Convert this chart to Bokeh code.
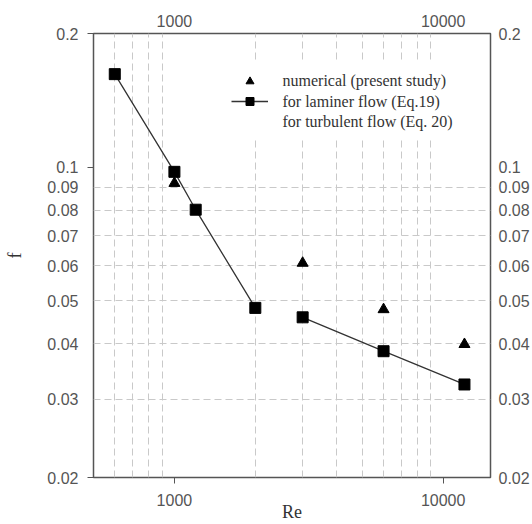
import math
from bokeh.plotting import figure
from bokeh.models import FixedTicker, LogAxis, Legend, LegendItem
from bokeh.core.properties import value
from bokeh.embed import file_html
from bokeh.resources import INLINE

# ---- data ----
re_numerical = [1000, 3000, 6000, 12000]
f_numerical = [0.092, 0.0608, 0.0478, 0.0399]

re_laminar = [600, 1000, 1200, 2000]
f_laminar = [0.162, 0.0976, 0.0802, 0.0482]

re_turbulent = [3000, 6000, 12000]
f_turbulent = [0.0459, 0.0385, 0.0324]

x_major = [1000, 10000]
x_grid = [600, 700, 800, 900, 2000, 3000, 4000, 5000, 6000, 7000, 8000, 9000]
y_labels = [0.02, 0.03, 0.04, 0.05, 0.06, 0.07, 0.08, 0.09, 0.1, 0.2]
y_label_text = ["0.02", "0.03", "0.04", "0.05", "0.06", "0.07", "0.08", "0.09", "0.1", "0.2"]
y_marked = [0.02, 0.1, 0.2]
y_grid = [0.03, 0.04, 0.05, 0.06, 0.07, 0.08, 0.09]

legend_labels = ["numerical (present study)", "for laminer flow (Eq.19)", "for turbulent flow (Eq. 20)"]

X_RANGE = (500, 15000)
Y_RANGE = (0.02, 0.2)
FRAME_W, FRAME_H = 397, 444

TICK_FONT = "Liberation Sans"
SERIF = "Liberation Serif"
TICK_COLOR = "#555555"
FRAME = "#555555"


def frame_to_data(px, py):
    """pixel offset inside the frame (from its top-left) -> data coordinates"""
    lx0, lx1 = math.log10(X_RANGE[0]), math.log10(X_RANGE[1])
    ly0, ly1 = math.log10(Y_RANGE[0]), math.log10(Y_RANGE[1])
    return (10 ** (lx0 + px / FRAME_W * (lx1 - lx0)),
            10 ** (ly1 - py / FRAME_H * (ly1 - ly0)))


p = figure(width=532, height=524, x_axis_type="log", y_axis_type="log",
           x_range=X_RANGE, y_range=Y_RANGE,
           output_backend="svg", toolbar_location=None,
           min_border_left=93, min_border_right=42, min_border_top=33, min_border_bottom=47)
p.background_fill_color = "white"
p.border_fill_color = "white"
p.outline_line_color = FRAME
p.outline_line_width = 1.5

# grids
p.xgrid.ticker = FixedTicker(ticks=x_grid)
p.ygrid.ticker = FixedTicker(ticks=y_grid)
for g in (p.xgrid, p.ygrid):
    g.grid_line_color = "#c9c9c9"
    g.grid_line_dash = "7 4"
    g.grid_line_width = 1

overrides = {v: t for v, t in zip(y_labels, y_label_text)}

# bottom axis
xa = p.xaxis[0]
xa.ticker = FixedTicker(ticks=x_major, minor_ticks=[])
xa.axis_line_color = None
xa.major_tick_line_color = FRAME
xa.major_tick_out = 6
xa.major_tick_in = 0
xa.minor_tick_line_color = None
xa.major_label_standoff = 10
xa.major_label_text_font = TICK_FONT
xa.major_label_text_font_size = "16px"
xa.major_label_text_color = TICK_COLOR
xa.major_label_overrides = {1000: "1000", 10000: "10000"}
xa.axis_label = "Re"
xa.axis_label_text_font = SERIF
xa.axis_label_text_font_style = "normal"
xa.axis_label_text_font_size = "18px"
xa.axis_label_text_color = "#333333"
xa.axis_label_standoff = -7

# left axis
ya = p.yaxis[0]
ya.ticker = FixedTicker(ticks=y_labels, minor_ticks=y_marked)
ya.axis_line_color = None
ya.major_tick_line_color = None
ya.major_tick_out = 6
ya.major_tick_in = 0
ya.minor_tick_line_color = FRAME
ya.minor_tick_out = 6
ya.minor_tick_in = 0
ya.major_label_standoff = 9
ya.major_label_text_font = TICK_FONT
ya.major_label_text_font_size = "16px"
ya.major_label_text_color = TICK_COLOR
ya.major_label_overrides = overrides
ya.axis_label = "f"
ya.axis_label_text_font = SERIF
ya.axis_label_text_font_style = "normal"
ya.axis_label_text_font_size = "18px"
ya.axis_label_text_color = "#333333"
ya.axis_label_standoff = 19

# top axis
top = LogAxis(ticker=FixedTicker(ticks=x_major, minor_ticks=[]))
top.axis_line_color = None
top.major_tick_line_color = None
top.major_tick_out = 0
top.minor_tick_line_color = None
top.major_label_standoff = 7
top.major_label_text_font = TICK_FONT
top.major_label_text_font_size = "16px"
top.major_label_text_color = TICK_COLOR
top.major_label_overrides = {1000: "1000", 10000: "10000"}
p.add_layout(top, "above")

# right axis
right = LogAxis(ticker=FixedTicker(ticks=y_labels, minor_ticks=[]))
right.axis_line_color = None
right.major_tick_line_color = None
right.major_tick_out = 0
right.minor_tick_line_color = None
right.major_label_standoff = 8
right.major_label_text_font = TICK_FONT
right.major_label_text_font_size = "16px"
right.major_label_text_color = TICK_COLOR
right.major_label_overrides = overrides
p.add_layout(right, "right")

# white backing of the legend area (hides the grid there)
(bx0, by0), (bx1, by1) = frame_to_data(138, 29), frame_to_data(369, 105)
p.quad(left=[bx0], right=[bx1], top=[by0], bottom=[by1],
       fill_color="white", line_color=None)

# legend texts (serif)
text_px = 189
text_py = [47, 68, 88]
pos = [frame_to_data(text_px, py) for py in text_py]
p.text(x=[q[0] for q in pos], y=[q[1] for q in pos], text=legend_labels,
       text_font=value(SERIF), text_font_size="16px", text_color="#333333",
       text_baseline="middle", text_align="left")

# data
lam_line = p.line(re_laminar, f_laminar, line_color="#333333", line_width=1.3)
turb_line = p.line(re_turbulent, f_turbulent, line_color="#333333", line_width=1.3)
tri = p.scatter(re_numerical, f_numerical, marker="triangle", size=11,
                fill_color="black", line_color="black")
sq_lam = p.scatter(re_laminar, f_laminar, marker="square", size=11,
                   fill_color="black", line_color="black")
sq_turb = p.scatter(re_turbulent, f_turbulent, marker="square", size=11,
                    fill_color="black", line_color="black")
dummy = p.line([], [], line_alpha=0)

# legend: only its glyphs are shown (transparent box, hidden label text)
legend = Legend(items=[
    LegendItem(label=legend_labels[0], renderers=[tri]),
    LegendItem(label=legend_labels[1], renderers=[lam_line, sq_lam]),
    LegendItem(label=legend_labels[2], renderers=[dummy]),
], location=(138, 346),
    label_text_font_size="16px", label_text_alpha=0,
    label_text_baseline="middle")
legend.background_fill_alpha = 0
legend.border_line_color = None
legend.padding = 8
legend.margin = 0
legend.spacing = 0
legend.glyph_width = 37
legend.glyph_height = 20
legend.label_height = 20
legend.label_standoff = 12
p.add_layout(legend, "center")

open("out.html", "w").write(file_html(p, INLINE))
